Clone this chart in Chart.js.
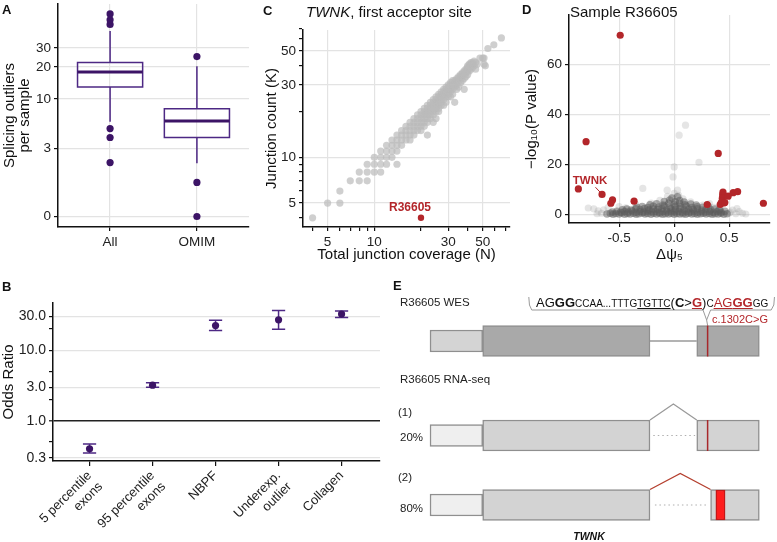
<!DOCTYPE html>
<html>
<head>
<meta charset="utf-8">
<title>TWNK splicing figure</title>
<script src="https://cdn.jsdelivr.net/npm/chart.js@4.4.1/dist/chart.umd.min.js"></script>
<style>
  body { margin: 0; background: #fff; }
  #fig { position: relative; width: 777px; height: 542px; overflow: hidden; font-family: "Liberation Sans", Arial, sans-serif; color: #111; }
  #fig canvas { position: absolute; }
  .t { position: absolute; white-space: nowrap; line-height: 1; }
  .panel { font-weight: bold; font-size: 13px; }
  .sm { font-size: 10px; }
  .red { color: #b3262a; }
  .e { font-size: 11.5px; color: #222; }
</style>
</head>
<body>
<div id="fig">
  <canvas id="chartA" width="260" height="268" style="left:0;top:0"></canvas>
  <canvas id="chartC" width="260" height="268" style="left:260px;top:0"></canvas>
  <canvas id="chartD" width="257" height="268" style="left:520px;top:0"></canvas>
  <canvas id="chartB" width="390" height="272" style="left:0;top:270px"></canvas>
  <canvas id="chartE" width="387" height="272" style="left:390px;top:270px"></canvas>

  <div class="t panel" style="left:2px;top:3px">A</div>
  <div class="t panel" style="left:263px;top:4px">C</div>
  <div class="t panel" style="left:522px;top:3px">D</div>
  <div class="t panel" style="left:2px;top:280px">B</div>
  <div class="t panel" style="left:393px;top:279px">E</div>

  <div class="t" style="left:306px;top:4px;font-size:15px"><i>TWNK</i>, first acceptor site</div>
  <div class="t" style="left:570px;top:4px;font-size:15px">Sample R36605</div>
  <div class="t red" style="left:410px;top:201px;font-size:12px;font-weight:bold;transform:translateX(-50%)">R36605</div>
  <div class="t red" style="left:590px;top:175px;font-size:11.5px;font-weight:bold;transform:translateX(-50%)">TWNK</div>

  <div class="t e" style="left:400px;top:297px">R36605 WES</div>
  <div class="t" style="left:536px;top:296px;font-size:13px;color:#111">AG<b>GG</b><span class="sm">CCAA...TTTG<u>TGTTC</u></span>(<b>C</b>&gt;<b class="red"><u>G</u></b>)<span class="sm">C</span><span class="red"><u>AG<b>GG</b></u></span><span class="sm">GG</span></div>
  <div class="t red" style="left:712px;top:314px;font-size:11px">c.1302C&gt;G</div>
  <div class="t e" style="left:400px;top:374px">R36605 RNA-seq</div>
  <div class="t e" style="left:398px;top:407px">(1)</div>
  <div class="t e" id="share1" style="left:400px;top:432px"></div>
  <div class="t e" style="left:398px;top:472px">(2)</div>
  <div class="t e" id="share2" style="left:400px;top:503px"></div>
  <div class="t" style="left:589px;top:531px;font-size:10.5px;font-weight:bold;font-style:italic;transform:translateX(-50%)">TWNK</div>
</div>

<script>
// ---------- data ----------
// A: splicing outliers per sample, box statistics
const groups = ['All', 'OMIM'];
const boxLow = [6, 2];
const boxQ1 = [13, 4];
const boxMedian = [18, 6];
const boxQ3 = [22, 8];
const boxHigh = [42, 20];
const outliers = [[2, 4, 5, 49, 54, 61], [0, 1, 25]];
const outlierTicks = [0, 3, 10, 20, 30];

// B: odds ratios with confidence intervals
const orCategories = [['5 percentile', 'exons'], ['95 percentile', 'exons'], 'NBPF', ['Underexp.', 'outlier'], 'Collagen'];
const orEstimate = [0.40, 3.2, 22.4, 27, 32.5];
const orLower = [0.35, 2.98, 19.0, 19.9, 29.1];
const orUpper = [0.47, 3.46, 26.7, 36.6, 35.9];
const orMajor = [0.3, 1, 3, 10, 30];
const orTicks = [0.3, 0.5, 1, 2, 3, 5, 10, 20, 30];

// C: TWNK first acceptor site, [total coverage N, junction count K]
const twnkJunctions = [
  [4,4],[5,5],[6,5],[6,6],[7,7],[8,7],[9,7],[8,8],[9,8],[10,8],[11,8],[9,9],[10,9],[11,9],[12,9],[14,9],
  [10,10],[11,10],[12,10],[13,10],[11,11],[12,11],[13,11],[14,11],[12,12],[13,12],[14,12],[15,12],
  [13,13],[14,13],[15,13],[16,13],[17,13],[14,14],[15,14],[16,14],[17,14],[18,14],[22,14],
  [15,15],[16,15],[17,15],[18,15],[19,15],[20,15],[16,16],[17,16],[18,16],[19,16],[20,16],[21,16],
  [17,17],[18,17],[19,17],[20,17],[21,17],[22,17],[24,17],[18,18],[19,18],[20,18],[21,18],[22,18],[23,18],[25,18],
  [19,19],[20,19],[21,19],[22,19],[23,19],[24,19],[20,20],[21,20],[22,20],[23,20],[24,20],[25,20],[26,20],
  [21,21],[22,21],[23,21],[24,21],[25,21],[26,21],[22,22],[23,22],[24,22],[25,22],[26,22],[27,22],[28,22],
  [23,23],[24,23],[25,23],[26,23],[27,23],[29,23],[33,23],[24,24],[25,24],[26,24],[27,24],[28,24],
  [25,25],[26,25],[27,25],[28,25],[29,25],[30,25],[31,25],[26,26],[27,26],[28,26],[29,26],[30,26],[32,26],
  [27,27],[28,27],[29,27],[30,27],[31,27],[28,28],[29,28],[30,28],[31,28],[32,28],[34,28],[38,28],
  [29,29],[30,29],[31,29],[32,29],[33,29],[35,29],[30,30],[31,30],[32,30],[33,30],[34,30],
  [31,31],[32,31],[33,31],[34,31],[36,31],[32,32],[33,32],[34,32],[35,32],[37,32],
  [34,33],[35,33],[36,33],[38,33],[35,34],[36,34],[37,34],[39,34],[36,35],[37,35],[38,35],[40,35],
  [37,36],[38,36],[39,36],[38,37],[39,37],[40,37],[41,37],[39,38],[40,38],[42,38],[45,38],
  [40,39],[41,39],[43,39],[40,40],[41,40],[42,40],[44,40],[52,40],[41,41],[42,41],[43,41],[46,41],[51,41],
  [42,42],[43,42],[45,42],[44,43],[48,45],[50,45],[51,45],[54,52],[59,55],[66,61]
];
const twnkSample = [20, 4];
const covMajor = [5, 10, 30, 50];
const covTicks = [4, 5, 6, 7, 8, 9, 10, 20, 30, 40, 50, 60, 70];

// D: volcano for sample R36605, [delta psi5, -log10 p]
const psiCore = [
  [-0.61,0.2],[-0.58,0.5],[-0.555,0.1],[-0.53,0.4],[-0.50,0.2],[-0.475,0.6],[-0.45,0.1],[-0.425,0.4],[-0.40,0.2],
  [-0.37,0.5],[-0.345,0.1],[-0.32,0.3],[-0.29,0.6],[-0.265,0.2],[-0.24,0.4],[-0.21,0.1],[-0.185,0.5],[-0.16,0.2],
  [-0.13,0.4],[-0.105,0.1],[-0.08,0.3],[-0.05,0.2],[-0.025,0.5],[0.0,0.1],[0.025,0.4],[0.05,0.2],[0.08,0.3],
  [0.105,0.1],[0.13,0.5],[0.16,0.2],[0.185,0.4],[0.21,0.1],[0.24,0.3],[0.265,0.5],[0.29,0.2],[0.32,0.4],
  [0.345,0.1],[0.37,0.3],[0.40,0.2],[0.425,0.5],[0.45,0.1],[0.48,0.3],
  [-0.56,1.0],[-0.52,1.3],[-0.485,0.9],[-0.45,1.2],[-0.415,1.0],[-0.38,1.4],[-0.345,0.9],[-0.31,1.2],
  [-0.275,1.0],[-0.24,1.4],[-0.205,1.1],[-0.17,1.3],[-0.135,0.9],[-0.10,1.2],[-0.065,1.0],[-0.03,1.4],
  [0.005,1.1],[0.04,1.3],[0.075,0.9],[0.11,1.2],[0.145,1.0],[0.18,1.4],[0.215,0.9],[0.25,1.2],[0.285,1.0],
  [0.32,1.3],[0.355,0.9],[0.39,1.2],[0.425,1.0],[0.46,1.3],
  [-0.47,1.9],[-0.43,2.2],[-0.39,1.8],[-0.35,2.3],[-0.31,2.0],[-0.27,2.4],[-0.23,1.9],[-0.19,2.2],[-0.15,2.0],
  [-0.11,2.4],[-0.07,1.8],[-0.03,2.3],[0.01,2.0],[0.05,2.4],[0.09,1.9],[0.13,2.2],[0.17,2.0],[0.21,2.3],
  [0.25,1.8],[0.29,2.1],[0.33,1.9],[0.37,2.2],[0.41,1.8],
  [-0.34,2.9],[-0.29,3.2],[-0.24,2.8],[-0.19,3.3],[-0.14,3.0],[-0.09,3.4],[-0.04,2.9],[0.01,3.3],[0.06,3.0],
  [0.11,3.4],[0.16,2.8],[0.21,3.1],[0.26,2.9],[0.31,3.2],
  [-0.22,3.9],[-0.16,4.3],[-0.10,3.8],[-0.05,4.5],[0.00,4.0],[0.05,4.4],[0.10,3.9],[0.15,4.2],[0.20,3.8],
  [-0.09,5.2],[-0.04,5.8],[0.01,5.1],[0.05,5.6],[0.09,5.0],[-0.02,6.6],[0.03,7.1]
];
const psiSparse = [
  [-0.78,2.6],[-0.73,2.3],[-0.69,1.5],[-0.66,0.5],[-0.64,1.9],[-0.70,0.3],[0.50,0.6],[0.53,1.8],[0.56,0.3],
  [0.59,1.2],[0.62,0.5],[0.65,0.2],[0.57,2.4],[0.51,1.0],[-0.60,2.8],
  [0.103,35.7],[0.045,31.7],[0.225,20.8],[0.0,19.0],[-0.01,15.0],[-0.285,10.4],[-0.064,9.7],[0.03,9.7],
  [0.0,8.4],[0.04,7.6],[-0.06,7.2],[0.08,6.2],[-0.13,5.6],[0.15,5.0],[-0.21,4.6],[0.26,3.8],[-0.5,3.2],
  [-0.44,2.7],[0.36,2.9],[0.42,2.5],[-0.35,4.1],[0.32,4.4]
];
const psiOutliers = [
  [-0.49,71.6],[-0.80,29.1],[-0.87,10.2],[-0.655,8.0],[-0.56,5.8],[-0.575,4.5],[-0.364,5.3],[0.30,4.0],
  [0.40,24.4],[0.443,8.9],[0.44,7.8],[0.437,6.5],[0.49,7.3],[0.536,8.7],[0.576,9.1],[0.81,4.5],
  [0.427,4.7],[0.45,4.6],[0.418,4.0],[0.435,5.2],[0.46,4.8]
];
const twnkPsi = [-0.655, 8.0];

// E: TWNK transcript model (transcript units)
const utrSpan = [0, 160];
const exon1Span = [160, 668];
const exon2Spans = [[810, 1000], [810, 1000], [852, 1000]];
const variantPos = 843;
const crypticPart = [868, 896];
const isoformShare = ['20%', '80%'];

// ---------- helpers ----------
const PURPLE = '#4d2884', DARKP = '#3c1466', RED = '#b3262a';
const l1p = v => Math.log10(v + 1);

Chart.defaults.font.family = '"Liberation Sans", Arial, sans-serif';
Chart.defaults.color = '#222';

function merge(a, b) {
  for (const k in b) {
    if (b[k] && typeof b[k] === 'object' && !Array.isArray(b[k]) && a[k] && typeof a[k] === 'object') merge(a[k], b[k]);
    else a[k] = b[k];
  }
  return a;
}
function base(extra) {
  return merge({
    responsive: false, animation: false, events: [],
    plugins: { legend: { display: false }, tooltip: { enabled: false } }
  }, extra);
}
function axis(extra) {
  return merge({
    border: { color: '#111', width: 1.5 },
    grid: { color: '#e3e3e3', lineWidth: 1.2, tickColor: '#111', tickLength: 4, tickWidth: 1.2 },
    ticks: { color: '#222', font: { size: 13.5 }, padding: 3, autoSkip: false, maxRotation: 0 }
  }, extra);
}
function axisTitle(text, size, pad) {
  return { display: true, text: text, color: '#111', font: { size: size, lineHeight: 1.2 }, padding: pad };
}
// the plot area keeps its place even if a tick label sits near an edge
function fixPad(s) { s.paddingTop = 0; s.paddingBottom = 0; s.paddingLeft = 0; s.paddingRight = 0; }
// polylines -> one dataset, broken with null points
function segs(lines) {
  const out = [];
  lines.forEach(line => {
    line.forEach(p => out.push({ x: p[0], y: p[1] }));
    out.push({ x: line[0][0], y: null });
  });
  return out;
}
const lineSet = (data, color, width, extra) => Object.assign({
  type: 'line', showLine: true, data: data, borderColor: color, borderWidth: width,
  pointRadius: 0, fill: false, spanGaps: false
}, extra || {});

// ---------- A ----------
const hw = 0.375;
new Chart(document.getElementById('chartA'), {
  type: 'scatter',
  data: { datasets: [
    { data: outliers.flatMap((o, i) => o.map(v => ({ x: i + 1, y: l1p(v) }))),
      pointRadius: 3.6, backgroundColor: DARKP, borderWidth: 0, order: 0 },
    lineSet(segs(groups.map((g, i) => [[i + 1 - hw, l1p(boxMedian[i])], [i + 1 + hw, l1p(boxMedian[i])]])),
      DARKP, 3, { order: 1 }),
    lineSet(segs(groups.flatMap((g, i) => [
      [[i + 1 - hw, l1p(boxQ1[i])], [i + 1 + hw, l1p(boxQ1[i])], [i + 1 + hw, l1p(boxQ3[i])],
       [i + 1 - hw, l1p(boxQ3[i])], [i + 1 - hw, l1p(boxQ1[i])]],
      [[i + 1, l1p(boxQ3[i])], [i + 1, l1p(boxHigh[i])]],
      [[i + 1, l1p(boxQ1[i])], [i + 1, l1p(boxLow[i])]]
    ])), PURPLE, 1.5, { order: 2, borderCapStyle: 'square' })
  ]},
  options: base({
    layout: { padding: { top: 4, right: 11 } },
    scales: {
      x: axis({ type: 'linear', min: 0.4, max: 2.6,
        afterBuildTicks: s => { s.ticks = groups.map((g, i) => ({ value: i + 1 })); },
        ticks: { callback: v => groups[v - 1] },
        afterFit: s => { s.height = 41; fixPad(s); } }),
      y: axis({ type: 'linear', min: -0.093, max: 1.88,
        afterBuildTicks: s => { s.ticks = outlierTicks.map(v => ({ value: l1p(v) })); },
        ticks: { callback: (v, i) => outlierTicks[i] },
        title: { display: true, text: ['Splicing outliers', 'per sample'], color: '#111',
          font: { size: 15, lineHeight: 1.0 }, padding: { top: 2, bottom: 0 } },
        afterFit: s => { s.width = 58; fixPad(s); } })
    }
  })
});

// ---------- C ----------
const covGrid = ctx => covMajor.includes(ctx.tick && ctx.tick.value) ? '#e3e3e3' : 'rgba(0,0,0,0)';
new Chart(document.getElementById('chartC'), {
  type: 'scatter',
  data: { datasets: [
    { data: [{ x: twnkSample[0], y: twnkSample[1] }], pointRadius: 3.2, backgroundColor: RED, borderWidth: 0, order: 0 },
    { data: twnkJunctions.map(p => ({ x: p[0], y: p[1] })), pointRadius: 3.6,
      backgroundColor: 'rgba(186,186,186,0.7)', borderWidth: 0, order: 1 }
  ]},
  options: base({
    layout: { padding: { top: 30, right: 10 } },
    scales: {
      x: axis({ type: 'logarithmic', min: 3.47, max: 75,
        afterBuildTicks: s => { s.ticks = covTicks.map(v => ({ value: v })); },
        ticks: { callback: v => covMajor.includes(v) ? String(v) : '' },
        grid: { color: covGrid },
        title: axisTitle('Total junction coverage (N)', 15, { top: 0, bottom: 4 }),
        afterFit: s => { s.height = 41; fixPad(s); } }),
      y: axis({ type: 'logarithmic', min: 3.48, max: 68.8,
        afterBuildTicks: s => { s.ticks = covTicks.map(v => ({ value: v })); },
        ticks: { callback: v => covMajor.includes(v) ? String(v) : '' },
        grid: { color: covGrid },
        title: axisTitle('Junction count (K)', 15, { top: 3, bottom: 0 }),
        afterFit: s => { s.width = 43; fixPad(s); } })
    }
  })
});

// ---------- D ----------
const toXY = p => ({ x: p[0], y: p[1] });
new Chart(document.getElementById('chartD'), {
  type: 'scatter',
  data: { datasets: [
    { data: psiOutliers.map(toXY), pointRadius: 3.6, backgroundColor: RED, borderWidth: 0, order: 0 },
    lineSet([{ x: twnkPsi[0] - 0.06, y: twnkPsi[1] + 2.9 }, { x: twnkPsi[0] - 0.013, y: twnkPsi[1] + 0.7 }],
      RED, 1, { order: 1 }),
    { data: psiCore.map(toXY), pointRadius: 3.8, backgroundColor: 'rgba(92,92,92,0.5)', borderWidth: 0, order: 2 },
    { data: psiSparse.map(toXY), pointRadius: 3.6, backgroundColor: 'rgba(150,150,150,0.25)', borderWidth: 0, order: 3 }
  ]},
  options: base({
    layout: { padding: { top: 15, right: 7 } },
    scales: {
      x: axis({ type: 'linear', min: -0.955, max: 0.87,
        afterBuildTicks: s => { s.ticks = [-0.5, 0, 0.5].map(v => ({ value: v })); },
        ticks: { callback: v => v.toFixed(1) },
        title: axisTitle('Δψ₅', 15, { top: 0, bottom: 4 }),
        afterFit: s => { s.height = 45; fixPad(s); } }),
      y: axis({ type: 'linear', min: -3.4, max: 79.7,
        afterBuildTicks: s => { s.ticks = [0, 20, 40, 60].map(v => ({ value: v })); },
        title: axisTitle('−log₁₀(P value)', 15, { top: 3, bottom: 0 }),
        afterFit: s => { s.width = 49; fixPad(s); } })
    }
  })
});

// ---------- B ----------
const capW = 0.105;
new Chart(document.getElementById('chartB'), {
  type: 'scatter',
  data: { datasets: [
    { data: orEstimate.map((v, i) => ({ x: i + 1, y: v })), pointRadius: 3.6, backgroundColor: DARKP, borderWidth: 0, order: 0 },
    lineSet(segs(orEstimate.flatMap((v, i) => [
      [[i + 1, orLower[i]], [i + 1, orUpper[i]]],
      [[i + 1 - capW, orLower[i]], [i + 1 + capW, orLower[i]]],
      [[i + 1 - capW, orUpper[i]], [i + 1 + capW, orUpper[i]]]
    ])), PURPLE, 1.5, { order: 1 })
  ]},
  options: base({
    layout: { padding: { top: 33, right: 10 } },
    scales: {
      x: axis({ type: 'linear', min: 0.42, max: 5.61,
        afterBuildTicks: s => { s.ticks = orCategories.map((c, i) => ({ value: i + 1 })); },
        ticks: { callback: v => orCategories[v - 1], maxRotation: 45, minRotation: 45, font: { size: 13 }, padding: 2 },
        grid: { drawOnChartArea: false, tickLength: 5 },
        afterFit: s => { s.height = 81; fixPad(s); } }),
      y: axis({ type: 'logarithmic', min: 0.269, max: 46.7,
        afterBuildTicks: s => { s.ticks = orTicks.map(v => ({ value: v })); },
        ticks: { callback: v => orMajor.includes(v) ? v.toFixed(1) : '', font: { size: 14 } },
        grid: {
          color: ctx => { const v = ctx.tick && ctx.tick.value; return v === 1 ? '#222' : (orMajor.includes(v) ? '#e3e3e3' : 'rgba(0,0,0,0)'); },
          lineWidth: ctx => (ctx.tick && ctx.tick.value === 1) ? 1.6 : 1.2
        },
        title: axisTitle('Odds Ratio', 15, { top: 0, bottom: 0 }),
        afterFit: s => { s.width = 53; fixPad(s); } })
    }
  })
});

// ---------- E ----------
const rowCenter = [71, 165.5, 235];   // WES, RNA-seq (1), RNA-seq (2)
const exonBorder = '#8f8f8f';
const bar = (spans, colors, thick, extra) => Object.assign({
  type: 'bar', indexAxis: 'y', grouped: false,
  data: spans.map((s, i) => ({ x: s, y: rowCenter[i] })),
  backgroundColor: colors, borderColor: exonBorder, borderWidth: 1.5, borderSkipped: false,
  barThickness: thick
}, extra || {});
const exTop = i => rowCenter[i] - 15.5, exBot = i => rowCenter[i] + 15.5;
new Chart(document.getElementById('chartE'), {
  type: 'bar',
  data: { datasets: [
    bar([crypticPart], ['#ff1c1c'], 30, {
      data: [{ x: crypticPart, y: rowCenter[2] }], borderColor: '#c41616', order: 0 }),
    lineSet(segs([
      [[variantPos, exTop(0)], [variantPos, exBot(0)]],
      [[variantPos, exTop(1)], [variantPos, exBot(1)]]
    ]), '#a8282b', 1.5, { order: 1 }),
    bar(exon2Spans, ['#a9a9a9', '#d3d3d3', '#d3d3d3'], 31, { order: 2 }),
    bar([exon1Span, exon1Span, exon1Span], ['#a9a9a9', '#d3d3d3', '#d3d3d3'], 31, { order: 3 }),
    bar([utrSpan, utrSpan, utrSpan], ['#d4d4d4', '#efefef', '#efefef'], 22, { order: 4 }),
    // intron in WES, splice arcs in RNA-seq
    lineSet([{ x: exon1Span[1], y: rowCenter[0] }, { x: exon2Spans[0][0], y: rowCenter[0] }], '#9a9a9a', 1.3, { order: 5 }),
    lineSet([{ x: exon1Span[1], y: exTop(1) }, { x: (exon1Span[1] + exon2Spans[1][0]) / 2, y: exTop(1) - 16 },
             { x: exon2Spans[1][0], y: exTop(1) }], '#9a9a9a', 1.3, { order: 5 }),
    lineSet([{ x: exon1Span[1], y: exTop(2) }, { x: (exon1Span[1] + exon2Spans[2][0]) / 2, y: exTop(2) - 16 },
             { x: exon2Spans[2][0], y: exTop(2) }], '#b5402f', 1.3, { order: 5 }),
    lineSet(segs([
      [[exon1Span[1] + 10, rowCenter[1]], [exon2Spans[1][0] - 5, rowCenter[1]]],
      [[exon1Span[1] + 15, rowCenter[2]], [exon2Spans[2][0] - 12, rowCenter[2]]]
    ]), '#b0b0b0', 1.2, { order: 5, borderDash: [1.5, 3] }),
    // bracket over the sequence, pointing to the variant
    lineSet([{ x: 300, y: 27 }, { x: 302, y: 35 }, { x: 309, y: 40 }, { x: variantPos - 14, y: 40 },
             { x: variantPos - 3, y: 50 }, { x: variantPos + 9, y: 40 }, { x: 1036, y: 40 },
             { x: 1044, y: 35 }, { x: 1046, y: 27 }], '#9a9a9a', 1, { order: 6 }),
    lineSet([{ x: variantPos - 3, y: 50 }, { x: variantPos, y: exTop(0) }], '#9a9a9a', 1, { order: 6 })
  ]},
  options: base({
    layout: { padding: 0 },
    scales: {
      x: { type: 'linear', display: false, offset: false, min: -121.5, max: 1053.7 },
      y: { type: 'linear', display: false, offset: false, min: 0, max: 272, reverse: true }
    }
  })
});
document.getElementById('share1').textContent = isoformShare[0];
document.getElementById('share2').textContent = isoformShare[1];
</script>
</body>
</html>
